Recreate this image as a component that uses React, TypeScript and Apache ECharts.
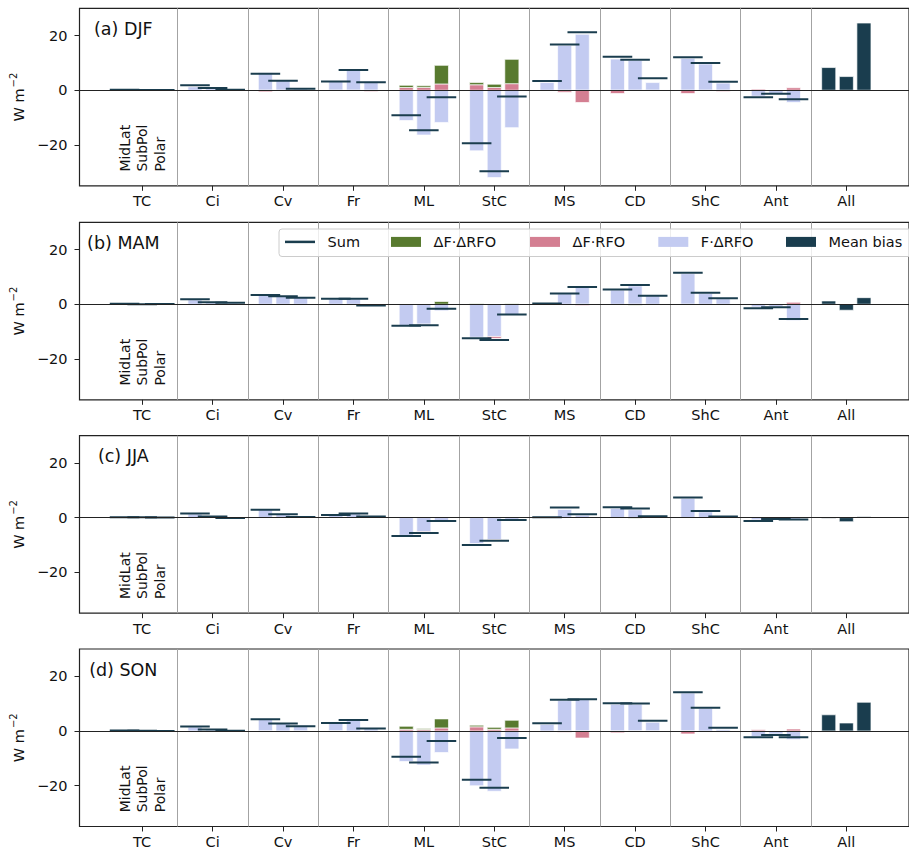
import React, { useEffect, useRef } from 'react';
import * as echarts from 'echarts';

const categories = ['TC', 'Ci', 'Cv', 'Fr', 'ML', 'StC', 'MS', 'CD', 'ShC', 'Ant', 'All'];
const regions = ['MidLat', 'SubPol', 'Polar'];
const panelTitles = ['(a) DJF', '(b) MAM', '(c) JJA', '(d) SON'];
const yTicks = [-20, 0, 20];

// Each array: one row per category (TC..Ant), values for [MidLat, SubPol, Polar]
// ---------- DJF ----------
const djfFdRFO = [[0.2, 0.1, 0.1], [1.3, 0.8, 0.2], [6.4, 3.6, 0.6], [3.3, 7.5, 3.2], [-11.1, -16.4, -11.8], [-22.2, -32.0, -13.7], [2.8, 16.4, 20.5], [11.4, 10.9, 2.8], [11.7, 9.6, 2.6], [-2.2, -1.3, -4.5]];
const djfdFRFO = [[0, 0, 0], [0.1, 0, 0], [-0.6, -0.1, 0], [-0.2, -0.1, -0.5], [1.0, 1.0, 2.3], [2.0, 1.0, 2.4], [0, -0.7, -4.5], [-1.2, -0.2, -0.3], [-1.2, -0.2, -0.5], [0.4, 0.1, 0.9]];
const djfdFdRFO = [[0, 0, 0], [0, 0, 0], [0, 0, 0], [0, 0, 0], [0.8, 0.6, 6.8], [0.8, 1.2, 8.9], [0, 0, 0], [0, 0, 0], [0, 0, 0], [0, 0, 0]];
const djfSum = [[0.2, 0.1, 0.1], [1.8, 0.85, 0.15], [6.0, 3.5, 0.5], [3.2, 7.4, 2.9], [-9.2, -14.7, -2.6], [-19.4, -29.7, -2.3], [3.4, 16.7, 21.2], [12.3, 11.2, 4.4], [12.1, 10.0, 3.1], [-2.6, -1.3, -3.3]];
const djfMeanBias = [8.3, 5.0, 24.6];

// ---------- MAM ----------
const mamFdRFO = [[0.2, 0.0, 0.1], [1.6, 0.6, 0.4], [3.2, 2.8, 2.4], [1.9, 1.9, -0.4], [-7.9, -7.3, -2.4], [-12.1, -11.8, -3.9], [0.2, 3.8, 6.2], [5.2, 6.7, 3.1], [11.2, 3.9, 2.0], [-1.0, -0.9, -6.0]];
const mamdFRFO = [[0, 0, 0], [0, 0, 0], [0, 0, 0], [0, 0, 0], [0, -0.3, 0], [0, -0.7, 0], [0, 0, -0.5], [0, 0, 0], [-0.2, 0, 0], [0.1, 0, 0.7]];
const mamdFdRFO = [[0, 0, 0], [0, 0, 0], [0, 0, 0], [0, 0, 0], [0, 0, 1.0], [0.2, 0, 0.2], [0, 0, 0], [0, -0.4, 0], [0, 0, 0], [0, 0, 0]];
const mamSum = [[0.2, 0.0, 0.1], [1.8, 0.7, 0.5], [3.4, 2.9, 2.4], [2.0, 2.0, -0.5], [-7.9, -7.7, -1.7], [-12.5, -13.1, -3.8], [0.3, 3.9, 6.3], [5.4, 7.0, 3.1], [11.5, 4.2, 2.2], [-1.5, -1.1, -5.4]];
const mamMeanBias = [1.2, -2.2, 2.4];

// ---------- JJA ----------
const jjaFdRFO = [[0.1, 0.1, 0], [1.3, 0.3, -0.1], [2.9, 1.1, 0.2], [0.9, 1.4, 0.4], [-6.5, -5.2, -1.2], [-9.5, -8.1, -0.9], [0.1, 3.0, 0.9], [3.4, 2.9, 0.4], [7.1, 2.1, 0.4], [-0.8, -0.4, -0.6]];
const jjadFRFO = [[0, 0, 0], [0, 0, 0], [0, 0, 0], [0, 0, 0], [0, -0.2, 0], [0, -0.2, 0], [0, 0, 0], [0, 0, 0], [0, 0, 0], [0, 0, 0]];
const jjadFdRFO = [[0, 0, 0], [0, 0, 0], [0, 0, 0], [0, 0, 0], [0, 0, 0], [0, 0, 0], [0, 0, 0], [0, -0.2, 0], [0, 0, 0], [0, 0, 0]];
const jjaSum = [[0.1, 0.1, 0.0], [1.5, 0.4, -0.1], [2.9, 1.2, 0.2], [1.0, 1.5, 0.4], [-6.7, -5.6, -1.2], [-10.0, -8.5, -0.85], [0.1, 3.7, 1.2], [3.8, 3.3, 0.5], [7.4, 2.4, 0.4], [-1.2, -0.5, -0.7]];
const jjaMeanBias = [-0.2, -1.5, 0.3];

// ---------- SON ----------
const sonFdRFO = [[0.2, 0.1, 0.0], [1.4, 0.5, 0.1], [4.5, 2.7, 2.0], [3.0, 4.0, 0.9], [-11.2, -12.5, -7.9], [-20.1, -22.1, -6.6], [2.4, 11.1, 11.5], [9.8, 9.8, 3.2], [13.9, 8.3, 0.5], [-2.1, -1.1, -3.1]];
const sondFRFO = [[0, 0, 0], [0, 0, 0], [-0.3, 0, -0.4], [-0.1, 0, 0], [0.6, 0.5, 1.1], [1.5, 0.6, 1.1], [0, -0.5, -2.6], [-0.7, -0.1, -0.3], [-1.1, 0, 0], [0.4, 0, 0.7]];
const sondFdRFO = [[0, 0, 0], [0, 0, 0], [0, 0, 0], [0, 0, 0], [1.1, 0.4, 3.3], [0.6, 0.7, 2.8], [0, 0, 0], [0, 0, 0], [0, 0, 0], [0, 0, 0]];
const sonSum = [[0.2, 0.1, 0.0], [1.6, 0.5, 0.1], [4.3, 2.7, 1.7], [2.9, 4.0, 0.9], [-9.5, -11.6, -3.7], [-17.9, -20.8, -2.6], [2.8, 11.4, 11.6], [10.1, 10.0, 3.7], [14.2, 8.5, 1.2], [-2.3, -1.5, -2.3]];
const sonMeanBias = [5.9, 2.9, 10.5];

const panels = [
  { blue: djfFdRFO, pink: djfdFRFO, green: djfdFdRFO, sum: djfSum, mean: djfMeanBias },
  { blue: mamFdRFO, pink: mamdFRFO, green: mamdFdRFO, sum: mamSum, mean: mamMeanBias },
  { blue: jjaFdRFO, pink: jjadFRFO, green: jjadFdRFO, sum: jjaSum, mean: jjaMeanBias },
  { blue: sonFdRFO, pink: sondFRFO, green: sondFdRFO, sum: sonSum, mean: sonMeanBias },
];

const C_BLUE = '#c3cbf1';
const C_PINK = '#d47f92';
const C_GREEN = '#587a2f';
const C_DARK = '#1a3d4e';
const FONT = 'DejaVu Sans';
const TXT = '#111';

const PANEL_TOPS = [8.3, 222.3, 435.7, 649];
const PANEL_H = 177.5;
const GRID_LEFT = 77.7;
const GRID_RIGHT = -9.2;
const X_MIN = -0.89;
const X_MAX = 10.89;
const SUB_OFF = 0.25;
const BAR_HALF = 0.1;
const SUM_HALF = 0.21;

function stackParts(comps: number[][][]) {
  const out: number[][][] = comps.map(() => []);
  for (let c = 0; c < comps[0].length; c++) {
    for (let s = 0; s < 3; s++) {
      let pos = 0;
      let neg = 0;
      const x = c + (s - 1) * SUB_OFF;
      comps.forEach((comp, k) => {
        const v = comp[c][s];
        if (!v) return;
        if (v > 0) {
          out[k].push([x, pos, pos + v]);
          pos += v;
        } else {
          out[k].push([x, neg, neg + v]);
          neg += v;
        }
      });
    }
  }
  return out;
}

function barRenderer(color: string) {
  return (params: any, api: any) => {
    const x = api.value(0);
    const y0 = api.value(1);
    const y1 = api.value(2);
    const a = api.coord([x - BAR_HALF, Math.max(y0, y1)]);
    const b = api.coord([x + BAR_HALF, Math.min(y0, y1)]);
    return {
      type: 'rect',
      shape: { x: a[0], y: a[1], width: b[0] - a[0], height: b[1] - a[1] },
      style: { fill: color, stroke: 'rgba(255,255,255,0.85)', lineWidth: 0.8 },
    };
  };
}

function sumRenderer(params: any, api: any) {
  const x = api.value(0);
  const v = api.value(1);
  const a = api.coord([x - SUM_HALF, v]);
  const b = api.coord([x + SUM_HALF, v]);
  return {
    type: 'line',
    shape: { x1: a[0], y1: a[1], x2: b[0], y2: b[1] },
    style: { stroke: C_DARK, lineWidth: 2 },
  };
}

function labelRenderer(params: any, api: any) {
  const p = api.coord([api.value(0), api.value(1)]);
  return {
    type: 'text',
    x: p[0],
    y: p[1],
    rotation: Math.PI / 2,
    style: {
      text: regions[params.dataIndex],
      fill: TXT,
      fontSize: 14,
      fontFamily: FONT,
      align: 'left',
      verticalAlign: 'middle',
    },
  };
}

function buildOption() {
  const grid: any[] = [];
  const xAxis: any[] = [];
  const yAxis: any[] = [];
  const series: any[] = [];
  const graphic: any[] = [];
  const catIdx = categories.map((_, k) => k);
  const separators = categories.slice(1).map((_, k) => k + 0.5);

  panels.forEach((p, i) => {
    grid.push({
      left: GRID_LEFT,
      right: GRID_RIGHT,
      top: PANEL_TOPS[i],
      height: PANEL_H,
      show: true,
      borderColor: '#222',
      borderWidth: 1.2,
      backgroundColor: 'transparent',
    });
    xAxis.push({
      type: 'value',
      gridIndex: i,
      position: 'bottom',
      min: X_MIN,
      max: X_MAX,
      axisLine: { show: false, onZero: false },
      splitLine: { show: false },
      axisTick: { show: true, length: 5, customValues: catIdx, lineStyle: { color: '#222', width: 1 } },
      axisLabel: {
        customValues: catIdx,
        formatter: (v: number) => categories[Math.round(v)] ?? '',
        fontSize: 14.5,
        color: TXT,
        fontFamily: FONT,
        margin: 8,
      },
    });
    yAxis.push({
      type: 'value',
      gridIndex: i,
      position: 'left',
      min: -35,
      max: 30,
      name: 'W m{sup|\u22122}',
      nameLocation: 'middle',
      nameGap: 50,
      nameTextStyle: {
        fontSize: 14.5,
        color: TXT,
        fontFamily: FONT,
        rich: { sup: { fontSize: 10, color: TXT, fontFamily: FONT, padding: [0, 0, 11, 1] } },
      },
      axisLine: { show: false, onZero: false },
      splitLine: { show: false },
      axisTick: { show: true, length: 5, customValues: yTicks, lineStyle: { color: '#222', width: 1 } },
      axisLabel: {
        customValues: yTicks,
        formatter: (v: number) => (v < 0 ? '\u2212' + Math.abs(v) : String(v)),
        fontSize: 14.5,
        color: TXT,
        fontFamily: FONT,
        margin: 12,
      },
    });

    const [blueData, pinkData, greenData] = stackParts([p.blue, p.pink, p.green]);
    const common = { xAxisIndex: i, yAxisIndex: i, silent: true, clip: true };
    series.push({ ...common, type: 'custom', name: 'F\u00B7\u0394RFO', itemStyle: { color: C_BLUE }, renderItem: barRenderer(C_BLUE), data: blueData, z: 2 });
    series.push({ ...common, type: 'custom', name: '\u0394F\u00B7RFO', itemStyle: { color: C_PINK }, renderItem: barRenderer(C_PINK), data: pinkData, z: 2 });
    series.push({ ...common, type: 'custom', name: '\u0394F\u00B7\u0394RFO', itemStyle: { color: C_GREEN }, renderItem: barRenderer(C_GREEN), data: greenData, z: 2 });
    series.push({
      ...common,
      type: 'custom',
      name: 'Mean bias',
      itemStyle: { color: C_DARK },
      renderItem: barRenderer(C_DARK),
      data: p.mean.map((v, s) => [10 + (s - 1) * SUB_OFF, 0, v]),
      z: 2,
    });
    series.push({
      ...common,
      type: 'custom',
      name: 'Sum',
      itemStyle: { color: C_DARK },
      renderItem: sumRenderer,
      data: p.sum.flatMap((row, c) => row.map((v, s) => [c + (s - 1) * SUB_OFF, v])),
      z: 3,
    });
    series.push({
      ...common,
      type: 'custom',
      name: 'labels',
      renderItem: labelRenderer,
      data: regions.map((_, s) => [(s - 1) * SUB_OFF, -29.8]),
      z: 3,
    });
    series.push({
      ...common,
      type: 'line',
      name: 'refs',
      data: [],
      showSymbol: false,
      markLine: {
        silent: true,
        symbol: 'none',
        animation: false,
        label: { show: false },
        lineStyle: { color: '#a3a3a3', width: 1, type: 'solid' },
        data: [
          ...separators.map((v) => ({ xAxis: v })),
          { yAxis: 0, lineStyle: { color: '#222', width: 1, type: 'solid' } },
        ],
      },
    });

    graphic.push({
      type: 'text',
      x: 123.3,
      y: PANEL_TOPS[i] + 20.7,
      z: 10,
      style: {
        text: panelTitles[i],
        fill: TXT,
        fontSize: 17.5,
        fontFamily: FONT,
        align: 'center',
        verticalAlign: 'middle',
      },
    });
  });

  // legend frame (panel b)
  graphic.push({
    type: 'rect',
    z: 8,
    shape: { x: 279, y: 229, width: 650, height: 27.5, r: 3 },
    style: { fill: 'rgba(255,255,255,0.8)', stroke: '#cccccc', lineWidth: 1 },
  });

  const legendItems = [
    { name: 'Sum', left: 285, h: 2.5, color: C_DARK },
    { name: '\u0394F\u00B7\u0394RFO', left: 391, h: 10, color: C_GREEN },
    { name: '\u0394F\u00B7RFO', left: 530, h: 10, color: C_PINK },
    { name: 'F\u00B7\u0394RFO', left: 658.3, h: 10, color: C_BLUE },
    { name: 'Mean bias', left: 786, h: 10, color: C_DARK },
  ];
  const legend = legendItems.map((it) => ({
    left: it.left,
    top: 234.4,
    padding: 0,
    z: 10,
    itemWidth: 30,
    itemHeight: it.h,
    selectedMode: false,
    textStyle: { fontSize: 14.5, color: TXT, fontFamily: FONT, padding: [0, 0, 0, 7.5] },
    data: [{ name: it.name, icon: 'rect', itemStyle: { color: it.color } }],
  }));

  return {
    animation: false,
    backgroundColor: '#ffffff',
    textStyle: { fontFamily: FONT },
    grid,
    xAxis,
    yAxis,
    series,
    graphic,
    legend,
  };
}

export default function App() {
  const ref = useRef<HTMLDivElement>(null);
  useEffect(() => {
    if (!ref.current) return;
    const chart = echarts.init(ref.current, undefined, { renderer: 'svg' });
    chart.setOption(buildOption() as any);
    return () => chart.dispose();
  }, []);
  return (
    <div
      ref={ref}
      style={{ position: 'fixed', left: 0, top: 0, width: 909, height: 853, background: '#fff' }}
    />
  );
}
